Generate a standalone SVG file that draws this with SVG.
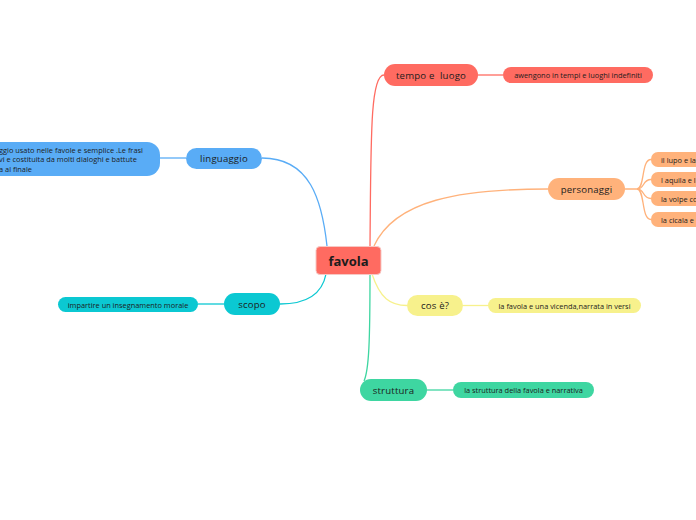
<svg xmlns="http://www.w3.org/2000/svg" width="696" height="520" viewBox="0 0 696 520">
<style>
text{font-family:"Open Sans","Noto Sans","DejaVu Sans",sans-serif;fill:#1c1c1c;text-anchor:middle;dominant-baseline:central}
.t{font-size:9.6px;letter-spacing:0.2px}
.s{font-size:7.4px}
.c{fill:none;stroke-width:1.3}
.red{fill:#FF6B61}.ora{fill:#FFB27B}.yel{fill:#F7F18C}.grn{fill:#3ED6A1}.blu{fill:#59ACF6}.cya{fill:#0BC8D2}
</style>
<rect width="696" height="520" fill="#fff"/>
<g id="connectors">
<path class="c" stroke="#FF6B61" d="M370,246 C371,140 370,75 384,75"/>
<path class="c" stroke="#FF6B61" d="M478,75 L503,75"/>
<path class="c" stroke="#FFB27B" d="M374,246 C395,200 460,189 548,189"/>
<path class="c" stroke="#FFB27B" d="M625,189 L637,189 C645,189 641,159.5 651,159.5"/>
<path class="c" stroke="#FFB27B" d="M637,189 C645,189 642,179.5 651,179.5"/>
<path class="c" stroke="#FFB27B" d="M637,189 C645,189 642,198.5 651,198.5"/>
<path class="c" stroke="#FFB27B" d="M637,189 C645,189 641,219.5 651,219.5"/>
<path class="c" stroke="#F7F18C" d="M372,274 C380,298 390,305.5 407,305.5"/>
<path class="c" stroke="#F7F18C" d="M463,305.5 L488,305.5"/>
<path class="c" stroke="#3ED6A1" d="M370,274 C370,340 369,370 364,381"/>
<path class="c" stroke="#3ED6A1" d="M427,390 L453,390"/>
<path class="c" stroke="#59ACF6" d="M262,158 C310,158 322,200 327,246"/>
<path class="c" stroke="#59ACF6" d="M160,158 L186,158"/>
<path class="c" stroke="#0BC8D2" d="M326,274 C322,295 305,304 280,304"/>
<path class="c" stroke="#0BC8D2" d="M198,304 L224,304"/>
</g>
<g id="favola">
<rect x="316" y="246.5" width="65" height="28" rx="4" class="red" stroke="#f7c8c4" stroke-width="1"/>
<text x="348.5" y="261" style="font-size:13px;font-weight:bold">favola</text>
</g>
<g id="tempo">
<rect x="384" y="64" width="94" height="22" rx="11" class="red"/>
<text class="t" x="431" y="75" xml:space="preserve">tempo e  luogo</text>
</g>
<g id="tempo-1">
<rect x="503" y="67" width="150" height="16" rx="8" class="red"/>
<text class="s" x="578" y="75">awengono in tempi e luoghi indefiniti</text>
</g>
<g id="personaggi">
<rect x="548" y="178" width="77" height="22" rx="11" class="ora"/>
<text class="t" x="586.5" y="189">personaggi</text>
</g>
<g id="pers-1">
<rect x="651" y="152" width="80" height="15" rx="7" class="ora"/>
<text class="s" x="661" y="159.5" style="text-anchor:start">il lupo e la</text>
</g>
<g id="pers-2">
<rect x="651" y="172" width="80" height="15" rx="7" class="ora"/>
<text class="s" x="661" y="179.5" style="text-anchor:start">l aquila e l</text>
</g>
<g id="pers-3">
<rect x="651" y="191" width="80" height="15" rx="7" class="ora"/>
<text class="s" x="661" y="198.5" style="text-anchor:start">la volpe co</text>
</g>
<g id="pers-4">
<rect x="651" y="212" width="80" height="15" rx="7" class="ora"/>
<text class="s" x="661" y="219.5" style="text-anchor:start">la cicala e</text>
</g>
<g id="cose">
<rect x="407" y="295" width="56" height="21" rx="10.5" class="yel"/>
<text class="t" x="435" y="305.5">cos è?</text>
</g>
<g id="cose-1">
<rect x="488" y="298" width="153" height="15" rx="7.5" class="yel"/>
<text class="s" x="564.5" y="305.5">la favola e una vicenda,narrata in versi</text>
</g>
<g id="struttura">
<rect x="360" y="379" width="67" height="22" rx="11" class="grn"/>
<text class="t" x="393.5" y="390">struttura</text>
</g>
<g id="struttura-1">
<rect x="453" y="382" width="141" height="16" rx="8" class="grn"/>
<text class="s" x="523.5" y="390">la struttura della favola e narrativa</text>
</g>
<g id="linguaggio">
<rect x="186" y="148" width="76" height="21" rx="10.5" class="blu"/>
<text class="t" x="224" y="158.5">linguaggio</text>
</g>
<g id="linguaggio-1">
<rect x="-40" y="142" width="200" height="34" rx="13" class="blu"/>
<text class="s" x="-1" y="149.5" style="text-anchor:start">ggio usato nelle favole e semplice .Le frasi</text>
<text class="s" x="-1" y="159" style="text-anchor:start">vi e costituita da molti dialoghi e battute</text>
<text class="s" x="-1" y="168.5" style="text-anchor:start">a al finale</text>
</g>
<g id="scopo">
<rect x="224" y="293" width="56" height="22" rx="11" class="cya"/>
<text class="t" x="252" y="304">scopo</text>
</g>
<g id="scopo-1">
<rect x="58" y="297" width="140" height="15" rx="7.5" class="cya"/>
<text class="s" x="128" y="304.5">impartire un insegnamento morale</text>
</g>
</svg>
